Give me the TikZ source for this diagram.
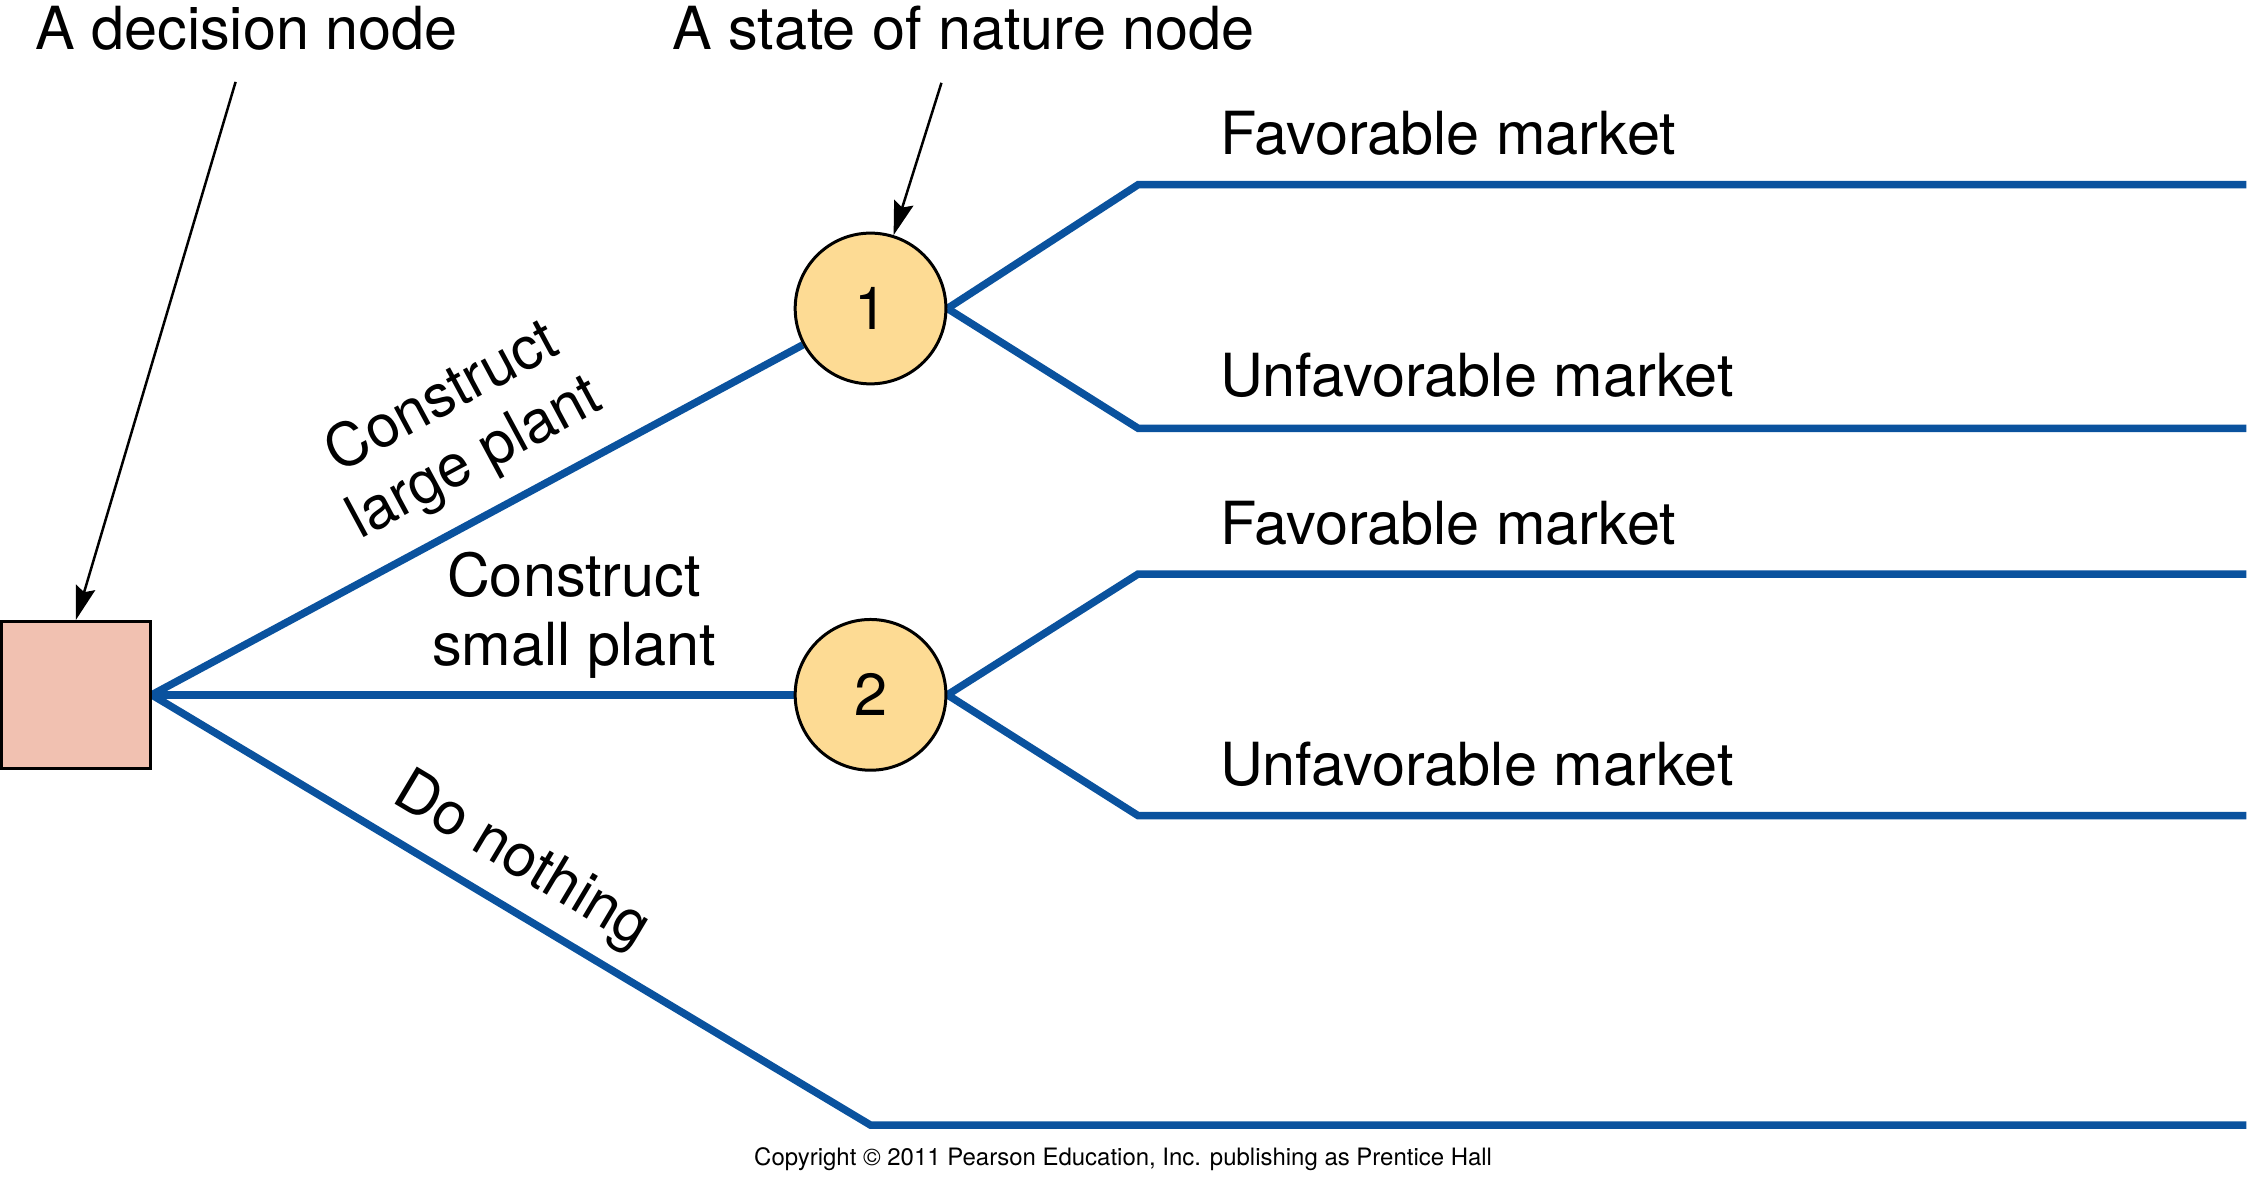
\documentclass[tikz,border=0pt]{standalone}
\usepackage{fontspec}
\setmainfont{TeX Gyre Heros}
\usetikzlibrary{arrows.meta,backgrounds}
\definecolor{branchblue}{RGB}{10,82,158}
\definecolor{decfill}{RGB}{241,193,177}
\definecolor{chancefill}{RGB}{253,219,148}
\begin{document}
\begin{tikzpicture}[x=1pt,y=-1pt,
  branch/.style={draw=branchblue, line width=7.5pt},
  pointer/.style={draw=black, line width=2.5pt, -{Stealth[length=34pt,width=20pt,inset=5pt]}},
  lbl/.style={font=\fontsize{59.5}{69}\selectfont, inner sep=0pt},
  decision/.style={rectangle, draw=black, line width=3pt, fill=decfill, minimum width=149pt, minimum height=147pt, inner sep=0pt},
  chance/.style={circle, draw=black, line width=3pt, fill=chancefill, minimum size=151pt, inner sep=0pt, font=\fontsize{59.5}{69}\selectfont},
  smalltext/.style={font=\fontsize{24}{28}\selectfont, inner sep=0pt}
]
% nodes
\node[decision] (sq) at (76,696) {};
\node[chance] (c1) at (872,309) {1};
\node[chance] (c2) at (872,696) {2};

% branch coordinates
\coordinate (f1) at (1140,185);  \coordinate (f1e) at (2250,185);
\coordinate (u1) at (1140,429);  \coordinate (u1e) at (2250,429);
\coordinate (f2) at (1140,575);  \coordinate (f2e) at (2250,575);
\coordinate (u2) at (1140,817);  \coordinate (u2e) at (2250,817);
\coordinate (dn) at (872,1127);  \coordinate (dne) at (2250,1127);

\begin{scope}[on background layer]
  \fill[white] (0,0) rectangle (2250,1194);
  \draw[branch] (sq.east) -- (c1);
  \draw[branch] (sq.east) -- (c2);
  \draw[branch] (sq.east) -- (dn) -- (dne);
  \draw[branch] (c1.east) -- (f1) -- (f1e);
  \draw[branch] (c1.east) -- (u1) -- (u1e);
  \draw[branch] (c2.east) -- (f2) -- (f2e);
  \draw[branch] (c2.east) -- (u2) -- (u2e);
\end{scope}

% pointers
\coordinate (p1) at (236,82);
\coordinate (p2) at (943,83);
\draw[pointer] (p1) -- (sq.north);
\draw[pointer] (p2) -- (c1);

% labels
\node[lbl, anchor=base west] (t1) at (35,50) {A decision node};
\node[lbl, anchor=base west] (t2) at (673,50) {A state of nature node};
\node[lbl, anchor=base west] (m1) at (1222,155) {Favorable market};
\node[lbl, anchor=base west] (m2) at (1222,397) {Unfavorable market};
\node[lbl, anchor=base west] (m3) at (1222,545) {Favorable market};
\node[lbl, anchor=base west] (m4) at (1222,787) {Unfavorable market};
\node[lbl, align=center, anchor=south, rotate=28.3] (lp) at (490,486) {Construct\\large plant};
\node[lbl, align=center, anchor=south] (sp) at (575,680) {Construct\\small plant};
\node[lbl, anchor=base, rotate=-30.85] (dnl) at (514,876) {Do nothing};
\node[smalltext, anchor=base] (cr) at (1125,1167) {Copyright © 2011 Pearson Education, Inc. publishing as Prentice Hall};

\useasboundingbox (0,0) rectangle (2250,1194);
\end{tikzpicture}
\end{document}
